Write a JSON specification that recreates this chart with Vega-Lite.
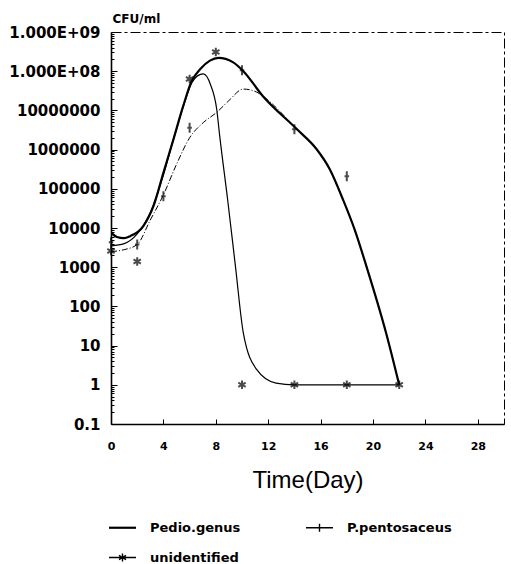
{
  "$schema": "https://vega.github.io/schema/vega-lite/v6.json",
  "width": 393,
  "height": 392,
  "autosize": {"type": "none"},
  "padding": {"left": 111, "top": 32, "right": 7, "bottom": 140},
  "background": "white",
  "config": {
    "font": "DejaVu Sans",
    "view": {"stroke": "black", "strokeWidth": 1, "strokeDash": [10, 3, 3, 3]}
  },
  "data": {
    "values": [
      {"kind": "curve", "series": "Pedio.genus", "day": 0, "cfu": 7600},
      {"kind": "curve", "series": "Pedio.genus", "day": 0.45, "cfu": 5900},
      {"kind": "curve", "series": "Pedio.genus", "day": 1.0, "cfu": 5500},
      {"kind": "curve", "series": "Pedio.genus", "day": 1.46, "cfu": 6200},
      {"kind": "curve", "series": "Pedio.genus", "day": 2.47, "cfu": 11200},
      {"kind": "curve", "series": "Pedio.genus", "day": 3.24, "cfu": 36000},
      {"kind": "curve", "series": "Pedio.genus", "day": 4.0, "cfu": 257000},
      {"kind": "curve", "series": "Pedio.genus", "day": 4.76, "cfu": 1800000},
      {"kind": "curve", "series": "Pedio.genus", "day": 5.52, "cfu": 13200000},
      {"kind": "curve", "series": "Pedio.genus", "day": 6.16, "cfu": 56000000},
      {"kind": "curve", "series": "Pedio.genus", "day": 6.8, "cfu": 112000000},
      {"kind": "curve", "series": "Pedio.genus", "day": 7.55, "cfu": 186000000},
      {"kind": "curve", "series": "Pedio.genus", "day": 8.2, "cfu": 219000000},
      {"kind": "curve", "series": "Pedio.genus", "day": 9.3, "cfu": 170000000},
      {"kind": "curve", "series": "Pedio.genus", "day": 10.1, "cfu": 100000000},
      {"kind": "curve", "series": "Pedio.genus", "day": 11.6, "cfu": 23000000},
      {"kind": "curve", "series": "Pedio.genus", "day": 14.2, "cfu": 3300000},
      {"kind": "curve", "series": "Pedio.genus", "day": 15.7, "cfu": 1020000},
      {"kind": "curve", "series": "Pedio.genus", "day": 16.7, "cfu": 316000},
      {"kind": "curve", "series": "Pedio.genus", "day": 17.7, "cfu": 54000},
      {"kind": "curve", "series": "Pedio.genus", "day": 18.6, "cfu": 9100},
      {"kind": "curve", "series": "Pedio.genus", "day": 19.5, "cfu": 1050},
      {"kind": "curve", "series": "Pedio.genus", "day": 21, "cfu": 21},
      {"kind": "curve", "series": "Pedio.genus", "day": 22, "cfu": 1},

      {"kind": "curve", "series": "P.pentosaceus", "day": 0, "cfu": 2500},
      {"kind": "curve", "series": "P.pentosaceus", "day": 1, "cfu": 2800},
      {"kind": "curve", "series": "P.pentosaceus", "day": 2, "cfu": 3800},
      {"kind": "curve", "series": "P.pentosaceus", "day": 3, "cfu": 16000},
      {"kind": "curve", "series": "P.pentosaceus", "day": 4, "cfu": 70000},
      {"kind": "curve", "series": "P.pentosaceus", "day": 5, "cfu": 420000},
      {"kind": "curve", "series": "P.pentosaceus", "day": 6, "cfu": 2000000},
      {"kind": "curve", "series": "P.pentosaceus", "day": 7.05, "cfu": 4900000},
      {"kind": "curve", "series": "P.pentosaceus", "day": 8.07, "cfu": 8900000},
      {"kind": "curve", "series": "P.pentosaceus", "day": 9, "cfu": 17800000},
      {"kind": "curve", "series": "P.pentosaceus", "day": 10.1, "cfu": 35000000},
      {"kind": "curve", "series": "P.pentosaceus", "day": 11.1, "cfu": 29500000},
      {"kind": "curve", "series": "P.pentosaceus", "day": 11.6, "cfu": 23000000},
      {"kind": "curve", "series": "P.pentosaceus", "day": 14.2, "cfu": 3300000},
      {"kind": "curve", "series": "P.pentosaceus", "day": 15.7, "cfu": 1020000},
      {"kind": "curve", "series": "P.pentosaceus", "day": 16.7, "cfu": 316000},
      {"kind": "curve", "series": "P.pentosaceus", "day": 17.7, "cfu": 54000},
      {"kind": "curve", "series": "P.pentosaceus", "day": 18.6, "cfu": 9100},
      {"kind": "curve", "series": "P.pentosaceus", "day": 19.5, "cfu": 1050},
      {"kind": "curve", "series": "P.pentosaceus", "day": 21, "cfu": 21},
      {"kind": "curve", "series": "P.pentosaceus", "day": 22, "cfu": 1},

      {"kind": "curve", "series": "unidentified", "day": 0, "cfu": 3500},
      {"kind": "curve", "series": "unidentified", "day": 1, "cfu": 4000},
      {"kind": "curve", "series": "unidentified", "day": 2, "cfu": 7100},
      {"kind": "curve", "series": "unidentified", "day": 3, "cfu": 25000},
      {"kind": "curve", "series": "unidentified", "day": 4, "cfu": 224000},
      {"kind": "curve", "series": "unidentified", "day": 4.76, "cfu": 1780000},
      {"kind": "curve", "series": "unidentified", "day": 5.52, "cfu": 12600000},
      {"kind": "curve", "series": "unidentified", "day": 6.16, "cfu": 50000000},
      {"kind": "curve", "series": "unidentified", "day": 6.6, "cfu": 76000000},
      {"kind": "curve", "series": "unidentified", "day": 7.05, "cfu": 85000000},
      {"kind": "curve", "series": "unidentified", "day": 7.6, "cfu": 45000000},
      {"kind": "curve", "series": "unidentified", "day": 8.07, "cfu": 10700000},
      {"kind": "curve", "series": "unidentified", "day": 8.3, "cfu": 2200000},
      {"kind": "curve", "series": "unidentified", "day": 8.9, "cfu": 54000},
      {"kind": "curve", "series": "unidentified", "day": 9.5, "cfu": 1050},
      {"kind": "curve", "series": "unidentified", "day": 10.1, "cfu": 21},
      {"kind": "curve", "series": "unidentified", "day": 11.1, "cfu": 2.5},
      {"kind": "curve", "series": "unidentified", "day": 12.6, "cfu": 1.1},
      {"kind": "curve", "series": "unidentified", "day": 14, "cfu": 1},
      {"kind": "curve", "series": "unidentified", "day": 18, "cfu": 1},
      {"kind": "curve", "series": "unidentified", "day": 22, "cfu": 1},

      {"kind": "obs", "series": "unidentified", "day": 0, "cfu": 2600},
      {"kind": "obs", "series": "unidentified", "day": 2, "cfu": 1400},
      {"kind": "obs", "series": "unidentified", "day": 6, "cfu": 63000000},
      {"kind": "obs", "series": "unidentified", "day": 8, "cfu": 310000000},
      {"kind": "obs", "series": "unidentified", "day": 10, "cfu": 1},
      {"kind": "obs", "series": "unidentified", "day": 14, "cfu": 1},
      {"kind": "obs", "series": "unidentified", "day": 18, "cfu": 1},
      {"kind": "obs", "series": "unidentified", "day": 22, "cfu": 1},
      {"kind": "obs", "series": "P.pentosaceus", "day": 0, "cfu": 4300},
      {"kind": "obs", "series": "P.pentosaceus", "day": 2, "cfu": 3800},
      {"kind": "obs", "series": "P.pentosaceus", "day": 4, "cfu": 65000},
      {"kind": "obs", "series": "P.pentosaceus", "day": 6, "cfu": 3600000},
      {"kind": "obs", "series": "P.pentosaceus", "day": 10, "cfu": 105000000},
      {"kind": "obs", "series": "P.pentosaceus", "day": 14, "cfu": 3300000},
      {"kind": "obs", "series": "P.pentosaceus", "day": 18, "cfu": 210000}
    ]
  },
  "layer": [
    {
      "transform": [{"filter": "datum.kind === 'curve' && datum.series !== 'P.pentosaceus'"}],
      "mark": {"type": "line", "interpolate": "monotone", "clip": true},
      "encoding": {
        "x": {
          "field": "day",
          "type": "quantitative",
          "scale": {"domain": [0, 30], "nice": false, "zero": false},
          "axis": {
            "values": [0, 4, 8, 12, 16, 20, 24, 28],
            "title": "Time(Day)",
            "titleFont": "Liberation Sans",
            "titleFontSize": 24,
            "titleFontWeight": "normal",
            "titleColor": "black",
            "titleY": 63,
            "titleBaseline": "alphabetic",
            "labelFont": "DejaVu Sans",
            "labelFontSize": 11,
            "labelFontWeight": "bold",
            "labelColor": "black",
            "labelPadding": 21,
            "labelFlush": false,
            "labelOverlap": false,
            "tickSize": -5,
            "tickColor": "black",
            "domainColor": "black",
            "domainWidth": 1.3,
            "grid": false
          }
        },
        "y": {
          "field": "cfu",
          "type": "quantitative",
          "scale": {"type": "log", "domain": [0.1, 1000000000], "nice": false},
          "axis": {
            "title": "CFU/ml",
            "titleAngle": 0,
            "titleX": 1,
            "titleY": -10,
            "titleAlign": "left",
            "titleBaseline": "alphabetic",
            "titleFont": "DejaVu Sans",
            "titleFontSize": 12,
            "titleFontWeight": "bold",
            "titleColor": "black",
            "values": [0.1, 0.2, 0.3, 0.4, 0.5, 0.6, 0.7, 0.8, 0.9,
                       1, 2, 3, 4, 5, 6, 7, 8, 9,
                       10, 20, 30, 40, 50, 60, 70, 80, 90,
                       100, 200, 300, 400, 500, 600, 700, 800, 900,
                       1000, 2000, 3000, 4000, 5000, 6000, 7000, 8000, 9000,
                       10000, 20000, 30000, 40000, 50000, 60000, 70000, 80000, 90000,
                       100000, 200000, 300000, 400000, 500000, 600000, 700000, 800000, 900000,
                       1000000, 2000000, 3000000, 4000000, 5000000, 6000000, 7000000, 8000000, 9000000,
                       10000000, 20000000, 30000000, 40000000, 50000000, 60000000, 70000000, 80000000, 90000000,
                       100000000, 200000000, 300000000, 400000000, 500000000, 600000000, 700000000, 800000000, 900000000,
                       1000000000],
            "labelExpr": "abs(log(datum.value)/LN10 - round(log(datum.value)/LN10)) > 0.000001 ? '' : datum.value > 50000000 ? (datum.value > 500000000 ? '1.000E+09' : '1.000E+08') : datum.value < 0.5 ? '0.1' : format(datum.value, 'd')",
            "labelFont": "DejaVu Sans",
            "labelFontSize": 15,
            "labelFontWeight": "bold",
            "labelColor": "black",
            "labelPadding": 17,
            "labelOverlap": false,
            "labelFlush": false,
            "tickSize": {"condition": {"test": "abs(log(datum.value)/LN10 - round(log(datum.value)/LN10)) < 0.000001", "value": -6}, "value": -3},
            "tickColor": "black",
            "domainColor": "black",
            "domainWidth": 1.6,
            "grid": false
          }
        },
        "color": {
          "field": "series",
          "type": "nominal",
          "scale": {"domain": ["Pedio.genus", "P.pentosaceus", "unidentified"], "range": ["black", "black", "black"]},
          "legend": {
            "title": null,
            "orient": "none",
            "legendX": 5,
            "legendY": 489,
            "direction": "horizontal",
            "columns": 2,
            "columnPadding": 62,
            "rowPadding": 15,
            "padding": 0,
            "symbolSize": 729,
            "symbolType": "stroke",
            "labelOffset": 21,
            "labelFont": "DejaVu Sans",
            "labelFontSize": 13,
            "labelFontWeight": "bold",
            "labelColor": "black",
            "symbolStrokeColor": "black",
            "encode": {
              "symbols": {
                "update": {
                  "shape": {"signal": "datum.value === 'Pedio.genus' ? 'M-1,0L1,0' : datum.value === 'P.pentosaceus' ? 'M-1,0L1,0M0,-0.3L0,0.3M-0.12,0L0.12,0' : 'M-1,0L1,0M0,-0.3L0,0.3M-0.26,-0.15L0.26,0.15M-0.26,0.15L0.26,-0.15'"},
                  "strokeWidth": {"signal": "datum.value === 'Pedio.genus' ? 2.2 : 1.4"},
                  "stroke": {"value": "black"},
                  "fill": {"value": "transparent"}
                }
              }
            }
          }
        },
        "strokeWidth": {
          "field": "series",
          "type": "ordinal",
          "scale": {"domain": ["Pedio.genus", "unidentified"], "range": [2.2, 1.2]},
          "legend": null
        }
      }
    },
    {
      "transform": [{"filter": "datum.kind === 'curve' && datum.series === 'P.pentosaceus'"}],
      "mark": {"type": "line", "interpolate": "monotone", "clip": true, "color": "black", "strokeWidth": 1, "strokeDash": [6, 2, 1, 2]},
      "encoding": {
        "x": {"field": "day", "type": "quantitative"},
        "y": {"field": "cfu", "type": "quantitative"}
      }
    },
    {
      "transform": [{"filter": "datum.kind === 'obs'"}],
      "mark": {"type": "point", "filled": false, "strokeWidth": 2, "size": 100, "color": "black", "clip": false},
      "encoding": {
        "x": {"field": "day", "type": "quantitative"},
        "y": {"field": "cfu", "type": "quantitative"},
        "shape": {
          "field": "series",
          "type": "nominal",
          "scale": {
            "domain": ["P.pentosaceus", "unidentified"],
            "range": ["M0,-1L0,1M-0.45,0L0.45,0", "M0,-0.85L0,0.85M-0.74,-0.42L0.74,0.42M-0.74,0.42L0.74,-0.42"]
          },
          "legend": null
        }
      }
    }
  ]
}
